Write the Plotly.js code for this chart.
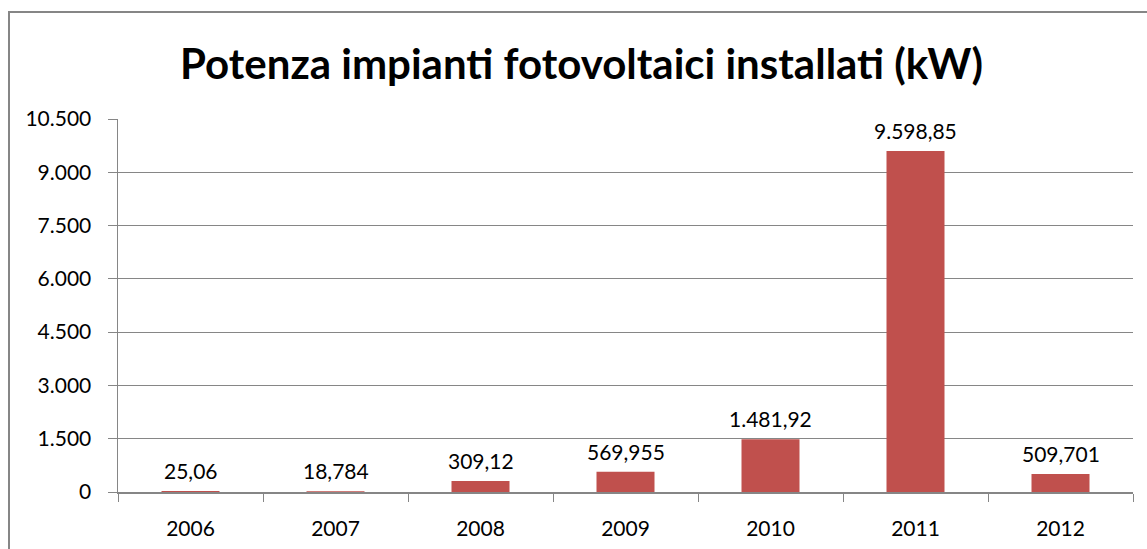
<!DOCTYPE html>
<html><head><meta charset="utf-8">
<script src="https://cdn.plot.ly/plotly-3.0.1.min.js"></script>
<style>html,body{margin:0;padding:0;overflow:hidden;background:#fff}
#wrap{position:relative;width:1147px;height:549px}
#frame{position:absolute;left:8px;top:11px;width:1160px;height:560px;border:2px solid #868686;box-sizing:border-box;pointer-events:none;z-index:5}
#chart{position:absolute;left:0;top:0;width:1147px;height:549px}
</style></head>
<body><div id="wrap"><div id="chart"></div><div id="frame"></div></div>
<script>
const years = ['2006','2007','2008','2009','2010','2011','2012'];
const power = [25.06, 18.784, 309.12, 569.955, 1481.92, 9598.85, 509.701];
const valueLabels = ['25,06','18,784','309,12','569,955','1.481,92','9.598,85','509,701'];
const tickValues = [0,1500,3000,4500,6000,7500,9000,10500];

const font = 'Lato, "Open Sans", sans-serif';
const annotations = years.map((yr, i) => ({
  x: i, y: power[i], xref:'x', yref:'y', text: valueLabels[i], showarrow:false,
  yanchor:'bottom', xanchor:'center', yshift:6,
  font:{family:font, size:21, color:'#000'}
}));
Plotly.newPlot('chart', [{
  type:'bar', x: years, y: power,
  marker:{color:'#C0504D', line:{width:0}},
  hoverinfo:'none'
}], {
  width:1147, height:549,
  separators:',.',
  margin:{l:118, r:14, t:119, b:57},
  bargap:0.6,
  paper_bgcolor:'rgba(0,0,0,0)', plot_bgcolor:'#fff',
  title:{text:'<b>Potenza impianti fotovoltaici installati (kW)</b>', font:{family:font, size:42, color:'#000'}, x:0.507, xanchor:'center', y:1-64/549, yanchor:'middle', yref:'container'},
  xaxis:{type:'category', categoryarray: years, showline:true, linecolor:'#868686', linewidth:1.5, showgrid:false,
    ticks:'outside', ticklen:8, tickcolor:'#868686', tickson:'boundaries',
    tickfont:{family:font, size:21, color:'#000'}, ticklabelstandoff:17},
  yaxis:{range:[0,10500], tickvals:tickValues, tickformat:',', showline:true, linecolor:'#868686', linewidth:1.5,
    showgrid:true, gridcolor:'#868686', gridwidth:1.2, zeroline:false,
    ticks:'outside', ticklen:9, tickcolor:'#868686', ticklabelstandoff:12,
    tickfont:{family:font, size:21, color:'#000'}},
  annotations: annotations,
  showlegend:false
}, {staticPlot:true});
</script></body></html>
